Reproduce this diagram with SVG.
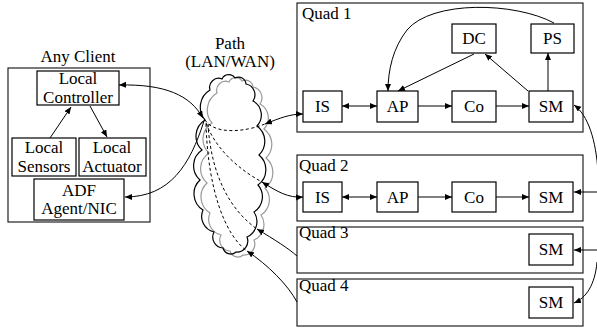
<svg xmlns="http://www.w3.org/2000/svg" width="597" height="331" viewBox="0 0 597 331">
<style>
  .box{fill:#fff;stroke:#000;stroke-width:1.2}
  .outer{fill:none;stroke:#222;stroke-width:1.2}
  text{font-family:"Liberation Serif","Times New Roman",serif;font-size:17px;fill:#000}
  .c{text-anchor:middle}
  .ln{fill:none;stroke:#000;stroke-width:1}
  .dash{fill:none;stroke:#000;stroke-width:1;stroke-dasharray:3,2.5}
  .cloud{fill:none;stroke-width:1.2}
</style>
<defs>
  <marker id="ah" markerUnits="userSpaceOnUse" markerWidth="8" markerHeight="7" refX="7" refY="3" orient="auto-start-reverse">
    <path d="M0,0 L7,3 L0,6 z" fill="#000"/>
  </marker>
  <path id="cloudShape" d="M205,120 A20,20 0 0 1 210,90 A9,9 0 0 1 222,79 A7.5,7.5 0 0 1 235,78 A7.5,7.5 0 0 1 246,84 A11,11 0 0 1 253,101 A16,16 0 0 1 257,126 A19,19 0 0 1 259,155 A19,19 0 0 1 258,185 A18,18 0 0 1 254,212 A17,17 0 0 1 247,237 A11,11 0 0 1 236,252 A8,8 0 0 1 223,248 A11,11 0 0 1 214,232 A16,16 0 0 1 203,210 A19,19 0 0 1 200,180 A19,19 0 0 1 202,150 A19,19 0 0 1 205,120 z"/>
</defs>
<rect width="597" height="331" fill="#fff"/>

<g id="cloud">
  <use href="#cloudShape" class="cloud" stroke="#999" transform="translate(7,3)"/>
  <use href="#cloudShape" class="cloud" stroke="#000"/>
  <text class="c" x="230" y="49">Path</text>
  <text class="c" x="230" y="67">(LAN/WAN)</text>
</g>

<g id="client">
  <rect class="outer" x="8" y="68" width="142" height="154"/>
  <text class="c" x="78" y="62">Any Client</text>
</g>
<g id="local-controller">
  <rect class="box" x="37" y="71" width="82" height="34"/>
  <text class="c" x="78" y="84">Local</text>
  <text class="c" x="78" y="102.5">Controller</text>
</g>
<g id="local-sensors">
  <rect class="box" x="12" y="138" width="64" height="38"/>
  <text class="c" x="44" y="153">Local</text>
  <text class="c" x="44" y="171.5">Sensors</text>
</g>
<g id="local-actuator">
  <rect class="box" x="79" y="138" width="67" height="38"/>
  <text class="c" x="112" y="153">Local</text>
  <text class="c" x="112" y="171.5">Actuator</text>
</g>
<g id="adf">
  <rect class="box" x="34" y="179" width="90" height="41"/>
  <text class="c" x="79" y="195.5">ADF</text>
  <text class="c" x="79" y="214">Agent/NIC</text>
</g>

<g id="quad1">
  <rect class="outer" x="297" y="3" width="286" height="129"/>
  <text x="302" y="19">Quad 1</text>
</g>
<g id="q1-dc"><rect class="box" x="452" y="24" width="44" height="29"/><text class="c" x="474" y="44">DC</text></g>
<g id="q1-ps"><rect class="box" x="531" y="24" width="43" height="29"/><text class="c" x="552.5" y="44">PS</text></g>
<g id="q1-is"><rect class="box" x="303" y="91" width="39" height="31"/><text class="c" x="322.5" y="112">IS</text></g>
<g id="q1-ap"><rect class="box" x="377" y="91" width="41" height="31"/><text class="c" x="397.5" y="112">AP</text></g>
<g id="q1-co"><rect class="box" x="452" y="91" width="44" height="31"/><text class="c" x="474" y="112">Co</text></g>
<g id="q1-sm"><rect class="box" x="529" y="91" width="44" height="31"/><text class="c" x="551" y="112">SM</text></g>

<g id="quad2">
  <rect class="outer" x="297" y="155" width="286" height="66"/>
  <text x="299" y="171">Quad 2</text>
</g>
<g id="q2-is"><rect class="box" x="303" y="182" width="39" height="30"/><text class="c" x="322.5" y="203">IS</text></g>
<g id="q2-ap"><rect class="box" x="377" y="182" width="41" height="30"/><text class="c" x="397.5" y="203">AP</text></g>
<g id="q2-co"><rect class="box" x="452" y="182" width="44" height="30"/><text class="c" x="474" y="203">Co</text></g>
<g id="q2-sm"><rect class="box" x="529" y="182" width="44" height="30"/><text class="c" x="551" y="203">SM</text></g>

<g id="quad3">
  <rect class="outer" x="297" y="227" width="286" height="46"/>
  <text x="299" y="238">Quad 3</text>
</g>
<g id="q3-sm"><rect class="box" x="529" y="234" width="44" height="31"/><text class="c" x="551" y="255">SM</text></g>

<g id="quad4">
  <rect class="outer" x="297" y="279" width="286" height="47"/>
  <text x="299" y="291">Quad 4</text>
</g>
<g id="q4-sm"><rect class="box" x="529" y="287" width="44" height="31"/><text class="c" x="551" y="308">SM</text></g>

<g id="connectors">
  <!-- client internal -->
  <path class="ln" d="M50,138 L71,107" marker-end="url(#ah)"/>
  <path class="ln" d="M90,106 L107,137" marker-end="url(#ah)"/>
  <!-- client to cloud -->
  <path class="ln" d="M203,118 C190,95 165,84 119,85" marker-start="url(#ah)" marker-end="url(#ah)"/>
  <path class="ln" d="M204,121 C190,165 170,197 125,197" marker-end="url(#ah)"/>
  <!-- dashed paths through cloud -->
  <path class="dash" d="M205,120 C215,135 245,132 265,124"/>
  <path class="dash" d="M206,123 C216,150 240,170 262,182"/>
  <path class="dash" d="M208,124 C211,175 230,210 257,229"/>
  <path class="dash" d="M206,124 C208,190 225,235 247,251"/>
  <!-- cloud to quads -->
  <path class="ln" d="M265,124 C280,118 290,114 303,114" marker-start="url(#ah)" marker-end="url(#ah)"/>
  <path class="ln" d="M262,182 C278,192 288,198 303,197" marker-start="url(#ah)" marker-end="url(#ah)"/>
  <path class="ln" d="M257,229 C275,240 288,248 297,256" marker-start="url(#ah)"/>
  <path class="ln" d="M247,251 C268,265 288,285 297,302" marker-start="url(#ah)"/>
  <!-- quad 1 internal -->
  <path class="ln" d="M342,106 L377,106" marker-start="url(#ah)" marker-end="url(#ah)"/>
  <path class="ln" d="M418,106 L452,106" marker-end="url(#ah)"/>
  <path class="ln" d="M496,106 L529,106" marker-end="url(#ah)"/>
  <path class="ln" d="M528,91 L485,54" marker-end="url(#ah)"/>
  <path class="ln" d="M548,91 L548,53" marker-end="url(#ah)"/>
  <path class="ln" d="M474,54 L398,91" marker-end="url(#ah)"/>
  <path class="ln" d="M554,23 C515,2 432,0 407,30 C393,48 388,70 388,91" marker-end="url(#ah)"/>
  <!-- quad 2 internal -->
  <path class="ln" d="M342,197 L377,197" marker-start="url(#ah)" marker-end="url(#ah)"/>
  <path class="ln" d="M418,197 L452,197" marker-end="url(#ah)"/>
  <path class="ln" d="M496,197 L529,197" marker-end="url(#ah)"/>
  <!-- right side to SMs -->
  <path class="ln" d="M598,172 C596,140 588,115 574,105" marker-end="url(#ah)"/>
  <path class="ln" d="M598,192 L574,192" marker-end="url(#ah)"/>
  <path class="ln" d="M598,250 L574,250" marker-end="url(#ah)"/>
  <path class="ln" d="M597,262 C595,285 586,298 574,303" marker-end="url(#ah)"/>
</g>
</svg>
